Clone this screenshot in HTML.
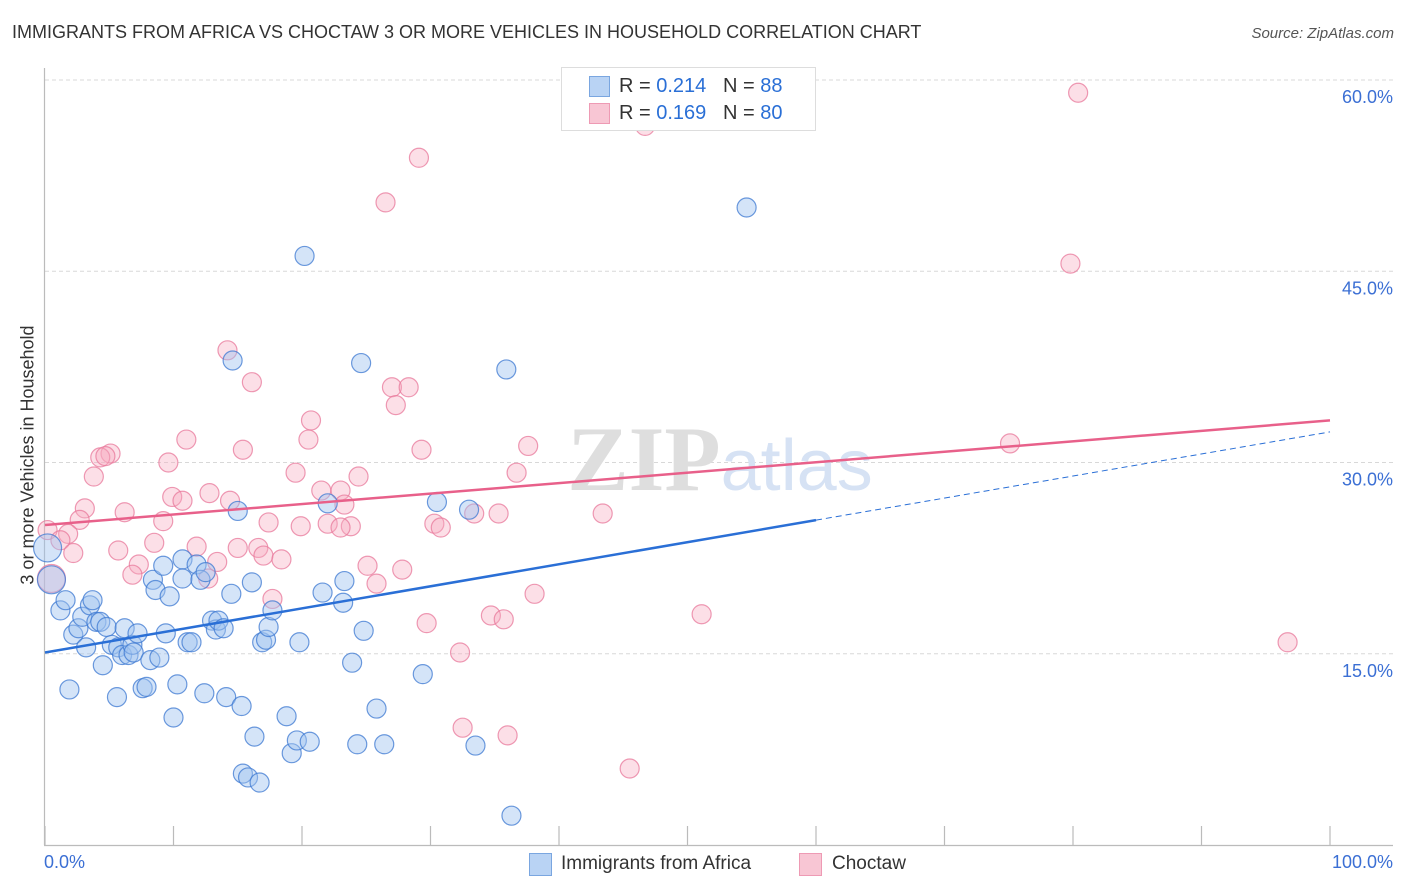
<!DOCTYPE html>
<html><head><meta charset="utf-8"><style>
html,body{margin:0;padding:0;background:#fff;}
body{width:1406px;height:892px;overflow:hidden;position:relative;font-family:"Liberation Sans",sans-serif;}
.t{position:absolute;white-space:nowrap;}
</style></head><body>
<div class="t" style="left:12px;top:22px;font-size:18px;color:#333;">IMMIGRANTS FROM AFRICA VS CHOCTAW 3 OR MORE VEHICLES IN HOUSEHOLD CORRELATION CHART</div>
<div class="t" style="right:12px;top:25px;font-size:15px;color:#555;font-style:italic;">Source: ZipAtlas.com</div>
<svg id="chart" width="1406" height="892" style="position:absolute;left:0;top:0;"></svg>
<script>
const yTicks=[15,30,45,60];
const yTickLabels=["15.0%","30.0%","45.0%","60.0%"];
const xTickVals=[0,10,20,30,40,50,60,70,80,90,100];
const blueX=[0.2,0.5,1.2,1.6,1.9,2.2,2.6,2.9,3.2,3.5,3.7,4.0,4.3,4.5,4.8,5.2,5.6,5.7,6.0,6.2,6.5,6.8,6.9,7.2,7.6,7.9,8.2,8.4,8.6,8.9,9.2,9.4,9.7,10.0,10.3,10.7,10.7,11.1,11.4,11.8,12.1,12.4,12.5,13.0,13.3,13.5,13.9,14.1,14.5,14.6,15.0,15.3,15.4,15.8,16.1,16.3,16.7,16.9,17.2,17.4,17.7,18.8,19.2,19.6,19.8,20.6,20.2,21.6,22.0,23.3,23.2,23.9,24.3,24.6,24.8,25.8,26.4,29.4,30.5,33.0,33.5,35.9,36.3,54.6];
const blueY=[23.3,20.8,18.4,19.2,12.2,16.5,17.0,17.9,15.5,18.8,19.2,17.5,17.5,14.1,17.1,15.7,11.6,15.5,14.9,17.0,14.9,15.7,15.1,16.6,12.3,12.4,14.5,20.8,20.0,14.7,21.9,16.6,19.5,10.0,12.6,22.4,20.9,15.9,15.9,22.0,20.8,11.9,21.4,17.6,16.9,17.6,17.0,11.6,19.7,38.0,26.2,10.9,5.6,5.3,20.6,8.5,4.9,15.9,16.1,17.1,18.4,10.1,7.2,8.2,15.9,8.1,46.2,19.8,26.8,20.7,19.0,14.3,7.9,37.8,16.8,10.7,7.9,13.4,26.9,26.3,7.8,37.3,2.3,50.0];
const pinkX=[80.4,46.7,29.1,26.5,79.8,14.2,16.1,27.0,28.3,27.3,20.7,11.0,20.5,37.6,15.4,29.3,5.1,4.3,4.7,9.6,19.5,24.4,36.7,3.8,21.5,23.0,12.8,9.9,10.7,3.1,14.4,6.2,23.3,33.4,35.3,43.4,2.7,9.2,17.4,19.9,22.0,23.8,30.3,30.8,23.0,0.2,1.8,1.2,15.0,5.7,16.6,8.5,11.8,2.2,17.0,13.4,18.4,7.3,25.1,27.8,6.8,12.7,25.8,38.1,17.7,34.7,35.7,51.1,29.7,32.3,96.7,32.5,36.0,45.5,75.1,0.5];
const pinkY=[59.0,56.4,53.9,50.4,45.6,38.8,36.3,35.9,35.9,34.5,33.3,31.8,31.8,31.3,31.0,31.0,30.7,30.4,30.5,30.0,29.2,28.9,29.2,28.9,27.8,27.8,27.6,27.3,27.0,26.4,27.0,26.1,26.7,26.0,26.0,26.0,25.5,25.4,25.3,25.0,25.2,25.0,25.2,24.9,24.9,24.7,24.4,23.9,23.3,23.1,23.3,23.7,23.4,22.9,22.7,22.2,22.4,22.0,21.9,21.6,21.2,20.9,20.5,19.7,19.3,18.0,17.7,18.1,17.4,15.1,15.9,9.2,8.6,6.0,31.5,20.9];
const blueTrend=[15.1,32.4];
const pinkTrend=[25.1,33.3];
const NS="http://www.w3.org/2000/svg";
const svg=document.getElementById('chart');
function sx(v){return 45+v*12.85;}
function sy(v){return 845-v*12.75;}
function mk(tag,attrs,parent){const e=document.createElementNS(NS,tag);for(const k in attrs)e.setAttribute(k,attrs[k]);(parent||svg).appendChild(e);return e;}
// gridlines
yTicks.forEach((v,i)=>{
  const g=mk('line',{x1:45,x2:1393,y1:sy(v),y2:sy(v),stroke:'#d8d8d8','stroke-dasharray':'4,3','stroke-width':1});
  
  
  const t=mk('text',{x:1393,y:sy(v)+23,'text-anchor':'end','font-size':18,fill:'#3b6fd4','font-family':'Liberation Sans, sans-serif'});
  t.textContent=yTickLabels[i];
  
  
});
const g0=mk('line',{x1:45,x2:1393,y1:sy(60),y2:sy(60),stroke:'#d8d8d8','stroke-dasharray':'4,3'});
// axes
const ya=mk('line',{x1:44.5,x2:44.5,y1:68,y2:845,stroke:'#bbb','stroke-width':1.2});


const xa=mk('line',{x1:44,x2:1393,y1:845.5,y2:845.5,stroke:'#bbb','stroke-width':1.2});


xTickVals.forEach(v=>{
  const l=mk('line',{x1:sx(v),x2:sx(v),y1:826,y2:845,stroke:'#bbb','stroke-width':1.2});
  
  
});
// watermark
const wm=mk('text',{x:720,y:490,'text-anchor':'middle','font-size':92,'font-family':'Liberation Serif, serif',fill:'#e4e4e4'});


wm.innerHTML='<tspan font-weight="bold" fill="#dedede">ZIP</tspan><tspan font-family="Liberation Sans, sans-serif" font-size="72" fill="#d6e2f4">atlas</tspan>';
// points
function pts(xs,ys,fill,stroke,name){
  xs.forEach((x,i)=>{
    const big=(x<1&&i<2)||(name==='choctaw-point'&&x<1&&ys[i]<22);
    const c=mk('circle',{cx:sx(x),cy:sy(ys[i]),r:big?14:9.5,fill:fill,stroke:stroke,'stroke-width':1.2});
    
    
  });
}
pts(pinkX,pinkY,'rgba(246,170,192,0.38)','rgba(232,120,155,0.75)','choctaw-point');
pts(blueX,blueY,'rgba(160,196,240,0.45)','rgba(60,120,210,0.75)','africa-point');
// trends
const pt=mk('line',{x1:sx(0),y1:sy(pinkTrend[0]),x2:sx(100),y2:sy(pinkTrend[1]),stroke:'#e8608a','stroke-width':2.5});


const bAt=v=>blueTrend[0]+(blueTrend[1]-blueTrend[0])*v/100;
const bt=mk('line',{x1:sx(0),y1:sy(bAt(0)),x2:sx(60),y2:sy(bAt(60)),stroke:'#2a6fd6','stroke-width':2.5});


const bd=mk('line',{x1:sx(60),y1:sy(bAt(60)),x2:sx(100),y2:sy(bAt(100)),stroke:'#2a6fd6','stroke-width':1,'stroke-dasharray':'6,4'});


</script>
<div class="t" style="left:28px;top:455px;font-size:18px;color:#333;transform:translate(-50%,-50%) rotate(-90deg);">3 or more Vehicles in Household</div>
<div class="t" style="left:44px;top:852px;font-size:18px;color:#3b6fd4;">0.0%</div>
<div class="t" style="right:13px;top:852px;font-size:18px;color:#3b6fd4;">100.0%</div>
<div style="position:absolute;left:561px;top:67px;width:253px;height:62px;border:1px solid #ddd;background:#fff;">
  <div style="position:absolute;left:27px;top:8px;width:19px;height:19px;background:#b9d3f4;border:1px solid #7aa6e0;"></div>
  <div class="t" style="left:57px;top:7px;font-size:20px;color:#333;">R = <span style="color:#2a6fd6">0.214</span>&nbsp;&nbsp;&nbsp;N = <span style="color:#2a6fd6">88</span></div>
  <div style="position:absolute;left:27px;top:35px;width:19px;height:19px;background:#f8c6d4;border:1px solid #ee9ab4;"></div>
  <div class="t" style="left:57px;top:34px;font-size:20px;color:#333;">R = <span style="color:#2a6fd6">0.169</span>&nbsp;&nbsp;&nbsp;N = <span style="color:#2a6fd6">80</span></div>
</div>
<div style="position:absolute;left:529px;top:853px;">
  <div style="position:absolute;left:0;top:0;width:21px;height:21px;background:#b9d3f4;border:1px solid #7aa6e0;"></div>
  <div class="t" style="left:32px;top:0px;font-size:19px;color:#333;">Immigrants from Africa</div>
</div>
<div style="position:absolute;left:799px;top:853px;">
  <div style="position:absolute;left:0;top:0;width:21px;height:21px;background:#f8c6d4;border:1px solid #ee9ab4;"></div>
  <div class="t" style="left:33px;top:0px;font-size:19px;color:#333;">Choctaw</div>
</div>
</body></html>
